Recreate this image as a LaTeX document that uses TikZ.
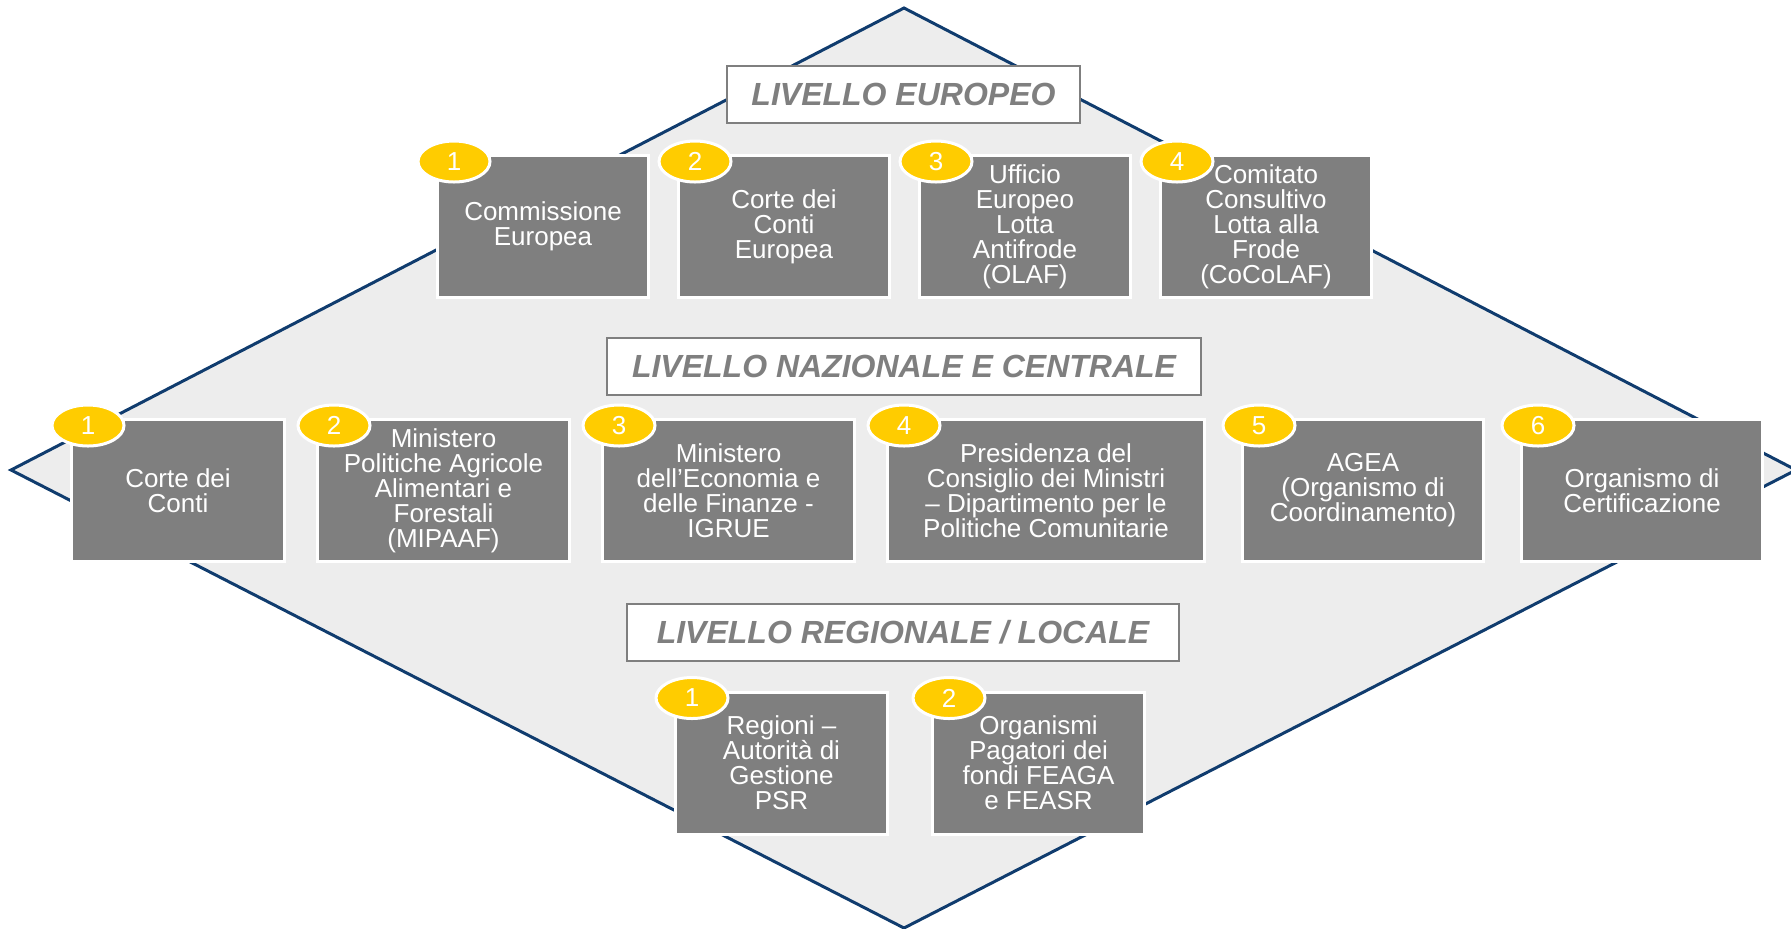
\documentclass[tikz,border=0pt]{standalone}
\usepackage{fontspec}
\setmainfont{Liberation Sans}
\usetikzlibrary{positioning,shapes.geometric}
\definecolor{navy}{HTML}{103C6E}
\definecolor{boxgrey}{HTML}{7F7F7F}
\definecolor{paper}{HTML}{EDEDED}
\definecolor{gold}{HTML}{FFCC00}

\begin{document}
\begin{tikzpicture}[
  x=0.5pt, y=-0.5pt,
  node distance=13.5pt,
  level/.style={draw=boxgrey, line width=1pt, fill=white, inner sep=0pt, minimum height=28.5pt, text=boxgrey, font=\fontsize{16}{19}\selectfont\bfseries\itshape},
  org/.style={draw=white, line width=1.5pt, fill=boxgrey, inner sep=0pt, minimum width=105.5pt, minimum height=71pt, align=center, text=white, font=\fontsize{13}{12.5}\selectfont},
  badge/.style={ellipse, draw=white, line width=1.5pt, fill=gold, inner sep=0pt, minimum width=36pt, minimum height=20.5pt, text=white, font=\fontsize{13}{13}\selectfont},
  rim/.style={draw=navy, line width=1.5pt, fill=paper, line join=miter}
]
\useasboundingbox (0,0) rectangle (1791,928);

\coordinate (top) at (904,8);
\coordinate (right) at (1796,470);
\coordinate (bottom) at (904,928);
\coordinate (left) at (11,470);
\draw[rim] (top) -- (right) -- (bottom) -- (left) -- cycle;

\node[level, minimum width=176.5pt] (eu) at (903.5,94.5) {LIVELLO EUROPEO};
\node[level, minimum width=297pt] (naz) at (904,366) {LIVELLO NAZIONALE E CENTRALE};
\node[level, minimum width=276pt] (reg) at (903,632) {LIVELLO REGIONALE / LOCALE};

\node[org] (eu1) at (543,226.5) {Commissione\\Europea};
\node[org, right=of eu1] (eu2) {Corte dei\\Conti\\Europea};
\node[org, right=of eu2] (eu3) {Ufficio\\Europeo\\Lotta\\Antifrode\\(OLAF)};
\node[org, right=of eu3] (eu4) {Comitato\\Consultivo\\Lotta alla\\Frode\\(CoCoLAF)};

\node[org, minimum width=106.5pt] (naz1) at (178,490.5) {Corte dei\\Conti};
\node[org, minimum width=126pt, right=15pt of naz1] (naz2) {Ministero\\Politiche Agricole\\Alimentari e\\Forestali\\(MIPAAF)};
\node[org, minimum width=126pt, right=15pt of naz2] (naz3) {Ministero\\dell’Economia e\\delle Finanze -\\IGRUE};
\node[org, minimum width=158.5pt, right=15pt of naz3] (naz4) {Presidenza del\\Consiglio dei Ministri\\– Dipartimento per le\\Politiche Comunitarie};
\node[org, minimum width=120.5pt, right=17.5pt of naz4] (naz5) {AGEA\\(Organismo di\\Coordinamento)};
\node[org, minimum width=120.5pt, right=17.5pt of naz5] (naz6) {Organismo di\\Certificazione};

\node[org, minimum width=106pt] (reg1) at (781.5,763) {Regioni –\\Autorità di\\Gestione\\PSR};
\node[org, minimum width=106pt, right=21pt of reg1] (reg2) {Organismi\\Pagatori dei\\fondi FEAGA\\e FEASR};

\foreach \n/\k in {eu1/1, eu2/2, eu3/3, eu4/4, naz1/1, naz2/2, naz3/3, naz4/4, naz5/5, naz6/6, reg1/1, reg2/2}
  \node[badge] (\n-num) at ([shift={(18,7.5)}]\n.north west) {\k};
\end{tikzpicture}
\end{document}
